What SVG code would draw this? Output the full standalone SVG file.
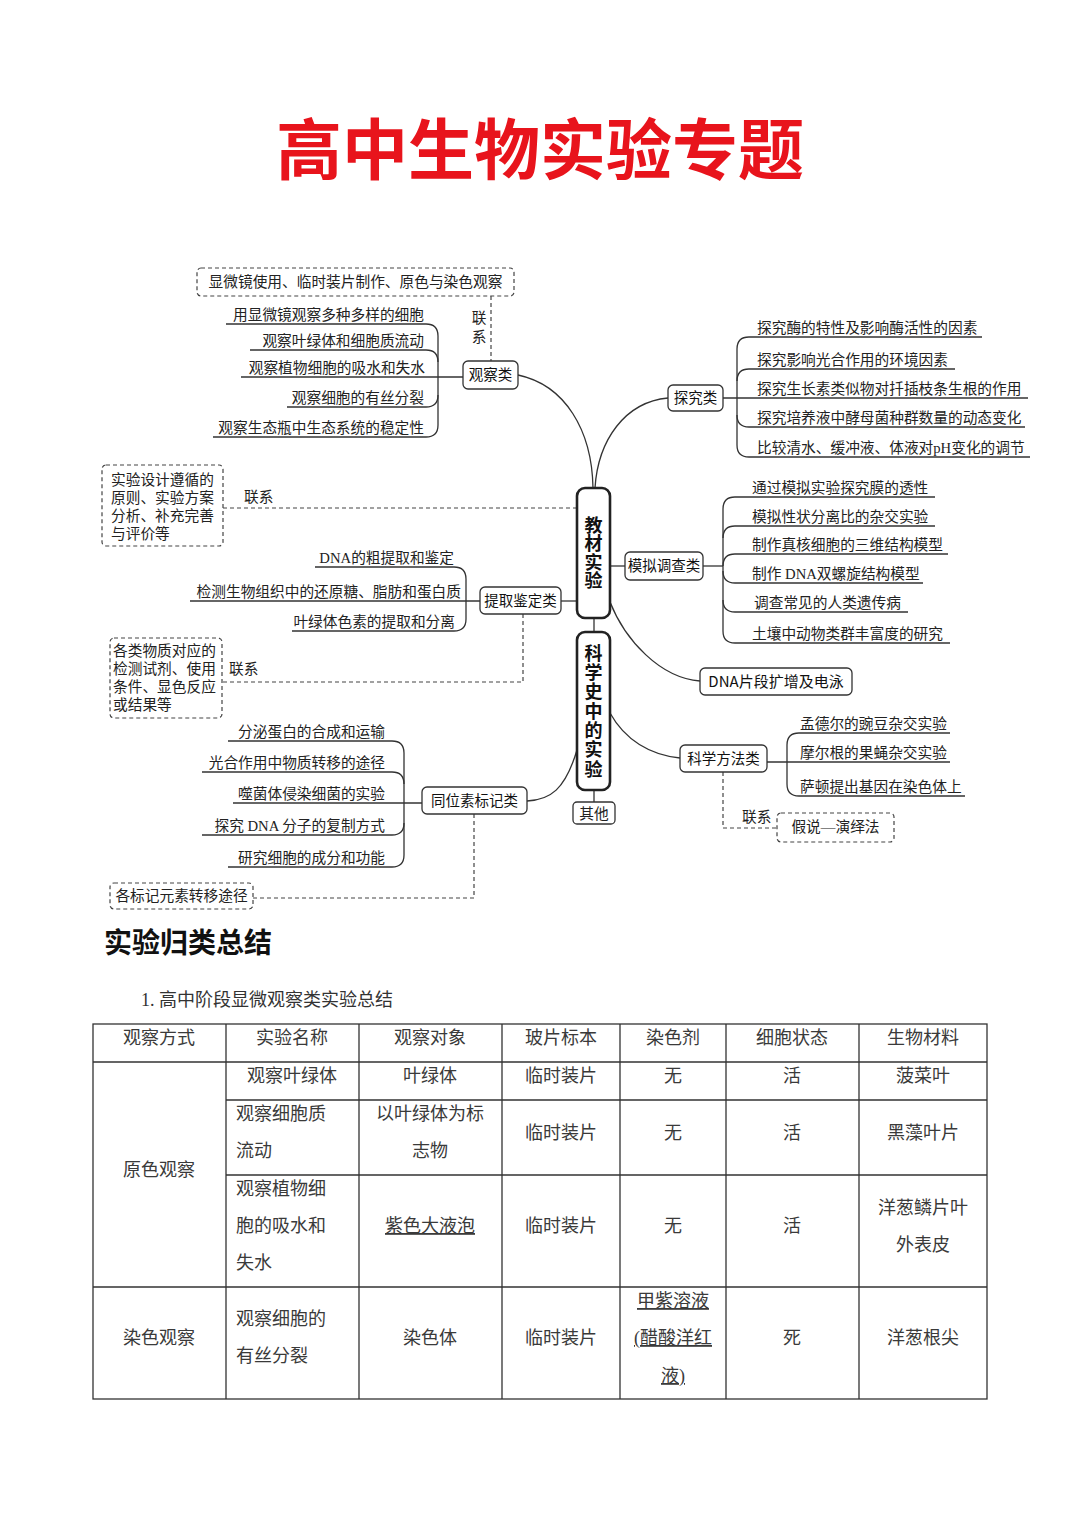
<svg xmlns="http://www.w3.org/2000/svg" width="1080" height="1527" viewBox="0 0 1080 1527">
<style>
.bg{fill:#ffffff}
.title{font-family:"Noto Sans CJK SC",sans-serif;font-weight:700;font-size:66px;fill:#e8141c}
.t{font-family:"Liberation Serif","Noto Sans CJK SC",serif;font-size:14.7px;fill:#222}
.n{font-family:"Noto Sans CJK SC",sans-serif;font-size:14.5px;fill:#111}
.nb{font-family:"Noto Sans CJK SC",sans-serif;font-size:18px;font-weight:700;fill:#111;writing-mode:vertical-rl}
.box{fill:#fff;stroke:#333;stroke-width:1.3}
.main{fill:#fff;stroke:#222;stroke-width:2.6}
.dbox{fill:#fff;stroke:#444;stroke-width:1.2;stroke-dasharray:4 3}
.c{fill:none;stroke:#333;stroke-width:1.3}
.d{fill:none;stroke:#444;stroke-width:1.2;stroke-dasharray:4 3}
.h{font-family:"Noto Sans CJK SC",sans-serif;font-weight:700;font-size:28px;fill:#111}
.s{font-family:"Liberation Serif","Noto Sans CJK SC",serif;font-size:18px;fill:#333}
.tb{font-family:"Liberation Serif","Noto Sans CJK SC",serif;font-size:18px;fill:#3a3a3a}
.grid{fill:none;stroke:#333;stroke-width:1.3}
</style>
<rect class="bg" x="0" y="0" width="1080" height="1527"/>
<text class="title" x="540" y="174" text-anchor="middle">高中生物实验专题</text>

<g id="connectors">
  <path class="c" d="M518,375 C565,385 592,430 593,488"/>
  <path class="c" d="M668,398 C625,402 598,440 595,488"/>
  <path class="c" d="M610,566 H625"/>
  <path class="c" d="M561,601 H577"/>
  <path class="c" d="M610,602 C625,640 660,678 700,681"/>
  <path class="c" d="M610,713 C625,740 650,755 680,758"/>
  <path class="c" d="M577,750 C565,790 550,800 527,801"/>
  <path class="c" d="M594,618 V632"/>
  <path class="c" d="M594,790 V802"/>
  <path class="c" d="M226,324 H426 Q438,324 438,336 V425 Q438,437 426,437 H213"/>
  <path class="c" d="M250,350 H426 Q438,350 438,362"/>
  <path class="c" d="M241,377 H463"/>
  <path class="c" d="M287,407 H426 Q438,407 438,395"/>
  <path class="c" d="M982,337 H749 Q737,337 737,349 V445 Q737,457 749,457 H1030"/>
  <path class="c" d="M737,381 Q737,369 749,369 H955"/>
  <path class="c" d="M723,398 H1028"/>
  <path class="c" d="M737,415 Q737,427 749,427 H1025"/>
  <path class="c" d="M935,497 H735 Q723,497 723,509 V631 Q723,643 735,643 H950"/>
  <path class="c" d="M723,538 Q723,526 735,526 H935"/>
  <path class="c" d="M723,566 Q723,554 735,554 H948"/>
  <path class="c" d="M703,566 H723"/>
  <path class="c" d="M723,571 Q723,583 735,583 H923"/>
  <path class="c" d="M723,600 Q723,612 735,612 H908"/>
  <path class="c" d="M315,567 H454 Q466,567 466,579 V619 Q466,631 454,631 H292"/>
  <path class="c" d="M190,601 H480"/>
  <path class="c" d="M228,741 H392 Q404,741 404,753 V855 Q404,867 392,867 H228"/>
  <path class="c" d="M202,772 H392 Q404,772 404,784"/>
  <path class="c" d="M233,803 H422"/>
  <path class="c" d="M202,835 H392 Q404,835 404,823"/>
  <path class="c" d="M950,733 H799 Q787,733 787,745 V784 Q787,796 799,796 H965"/>
  <path class="c" d="M767,762 H950"/>
  <path class="d" d="M491,296 V361"/>
  <path class="d" d="M223,508 H577"/>
  <path class="d" d="M523,614 V682 H222"/>
  <path class="d" d="M474,814 V898 H253"/>
  <path class="d" d="M723,772 V828 H777"/>
  <text class="t" x="479" y="323" text-anchor="middle">联</text>
  <text class="t" x="479" y="342" text-anchor="middle">系</text>
  <text class="t" x="244" y="502">联系</text>
  <text class="t" x="229" y="674">联系</text>
  <text class="t" x="742" y="822">联系</text>
</g>

<g id="node-main1">
  <rect class="main" x="577" y="488" width="33" height="130" rx="8"/>
  <text class="nb" x="593.5" y="516" style="letter-spacing:0.5px">教材实验</text>
</g>
<g id="node-main2">
  <rect class="main" x="577" y="632" width="33" height="158" rx="8"/>
  <text class="nb" x="593.5" y="644" style="letter-spacing:1.3px">科学史中的实验</text>
</g>
<g id="node-other">
  <rect class="box" x="573" y="802" width="42" height="22" rx="4"/>
  <text class="t" x="594" y="818.5" text-anchor="middle">其他</text>
</g>

<g id="node-guancha">
  <rect class="box" x="463" y="361" width="55" height="28" rx="5"/>
  <text class="n" x="490.5" y="380" text-anchor="middle">观察类</text>
  <text class="t" x="424" y="319.5" text-anchor="end">用显微镜观察多种多样的细胞</text>
  <text class="t" x="424" y="345.5" text-anchor="end">观察叶绿体和细胞质流动</text>
  <text class="t" x="425" y="372.5" text-anchor="end">观察植物细胞的吸水和失水</text>
  <text class="t" x="424" y="402.5" text-anchor="end">观察细胞的有丝分裂</text>
  <text class="t" x="424" y="432.5" text-anchor="end">观察生态瓶中生态系统的稳定性</text>
</g>
<g id="note-guancha">
  <rect class="dbox" x="197" y="268" width="317" height="28" rx="4"/>
  <text class="t" x="355.5" y="287" text-anchor="middle">显微镜使用、临时装片制作、原色与染色观察</text>
</g>

<g id="node-tanjiu">
  <rect class="box" x="668" y="385" width="55" height="26" rx="5"/>
  <text class="n" x="695.5" y="403" text-anchor="middle">探究类</text>
  <text class="t" x="757" y="332.5">探究酶的特性及影响酶活性的因素</text>
  <text class="t" x="757" y="364.5">探究影响光合作用的环境因素</text>
  <text class="t" x="757" y="393.5">探究生长素类似物对扦插枝条生根的作用</text>
  <text class="t" x="757" y="422.5">探究培养液中酵母菌种群数量的动态变化</text>
  <text class="t" x="757" y="452.5">比较清水、缓冲液、体液对pH变化的调节</text>
</g>

<g id="note-design">
  <rect class="dbox" x="102" y="465" width="121" height="81" rx="4"/>
  <text class="t" x="111" y="485">实验设计遵循的</text>
  <text class="t" x="111" y="503">原则、实验方案</text>
  <text class="t" x="111" y="521">分析、补充完善</text>
  <text class="t" x="111" y="539">与评价等</text>
</g>

<g id="node-moni">
  <rect class="box" x="625" y="552" width="78" height="28" rx="5"/>
  <text class="n" x="664" y="571" text-anchor="middle">模拟调查类</text>
  <text class="t" x="752" y="492.5">通过模拟实验探究膜的透性</text>
  <text class="t" x="752" y="521.5">模拟性状分离比的杂交实验</text>
  <text class="t" x="752" y="549.5">制作真核细胞的三维结构模型</text>
  <text class="t" x="752" y="578.5">制作 DNA双螺旋结构模型</text>
  <text class="t" x="754" y="607.5">调查常见的人类遗传病</text>
  <text class="t" x="752" y="638.5">土壤中动物类群丰富度的研究</text>
</g>

<g id="node-tiqu">
  <rect class="box" x="480" y="587" width="81" height="27" rx="5"/>
  <text class="n" x="520.5" y="605.5" text-anchor="middle">提取鉴定类</text>
  <text class="t" x="454" y="562.5" text-anchor="end">DNA的粗提取和鉴定</text>
  <text class="t" x="461" y="596.5" text-anchor="end">检测生物组织中的还原糖、脂肪和蛋白质</text>
  <text class="t" x="455" y="626.5" text-anchor="end">叶绿体色素的提取和分离</text>
</g>
<g id="note-tiqu">
  <rect class="dbox" x="110" y="638" width="112" height="80" rx="4"/>
  <text class="t" x="113" y="656">各类物质对应的</text>
  <text class="t" x="113" y="674">检测试剂、使用</text>
  <text class="t" x="113" y="692">条件、显色反应</text>
  <text class="t" x="113" y="710">或结果等</text>
</g>

<g id="node-dna">
  <rect class="box" x="700" y="668" width="152" height="27" rx="5"/>
  <text class="n" x="776" y="687" text-anchor="middle" style="font-size:15px">DNA片段扩增及电泳</text>
</g>

<g id="node-tongwei">
  <rect class="box" x="422" y="787" width="105" height="27" rx="5"/>
  <text class="n" x="474.5" y="806" text-anchor="middle">同位素标记类</text>
  <text class="t" x="385" y="736.5" text-anchor="end">分泌蛋白的合成和运输</text>
  <text class="t" x="385" y="767.5" text-anchor="end">光合作用中物质转移的途径</text>
  <text class="t" x="385" y="798.5" text-anchor="end">噬菌体侵染细菌的实验</text>
  <text class="t" x="385" y="830.5" text-anchor="end">探究 DNA 分子的复制方式</text>
  <text class="t" x="385" y="862.5" text-anchor="end">研究细胞的成分和功能</text>
</g>
<g id="note-tongwei">
  <rect class="dbox" x="110" y="883" width="143" height="26" rx="4"/>
  <text class="t" x="181.5" y="901" text-anchor="middle">各标记元素转移途径</text>
</g>

<g id="node-kexue">
  <rect class="box" x="680" y="745" width="87" height="27" rx="5"/>
  <text class="n" x="723.5" y="764" text-anchor="middle">科学方法类</text>
  <text class="t" x="800" y="728.5">孟德尔的豌豆杂交实验</text>
  <text class="t" x="800" y="757.5">摩尔根的果蝇杂交实验</text>
  <text class="t" x="800" y="791.5">萨顿提出基因在染色体上</text>
</g>
<g id="note-kexue">
  <rect class="dbox" x="777" y="813" width="117" height="29" rx="4"/>
  <text class="t" x="835.5" y="832" text-anchor="middle">假说—演绎法</text>
</g>

<text class="h" x="104" y="953">实验归类总结</text>
<text class="s" x="141" y="1006">1.  高中阶段显微观察类实验总结</text>

<g id="table">
  <rect class="grid" x="93" y="1024" width="894" height="375"/>
  <path class="grid" d="M93,1062 H987 M226,1100 H987 M226,1175 H987 M93,1287 H987"/>
  <path class="grid" d="M226,1024 V1399 M359,1024 V1399 M502,1024 V1399 M620,1024 V1399 M726,1024 V1399 M859,1024 V1399"/>
  <g class="tb" text-anchor="middle">
    <text x="159" y="1044">观察方式</text>
    <text x="292" y="1044">实验名称</text>
    <text x="430" y="1044">观察对象</text>
    <text x="561" y="1044">玻片标本</text>
    <text x="673" y="1044">染色剂</text>
    <text x="792" y="1044">细胞状态</text>
    <text x="923" y="1044">生物材料</text>

    <text x="292" y="1082">观察叶绿体</text>
    <text x="430" y="1082">叶绿体</text>
    <text x="561" y="1082">临时装片</text>
    <text x="673" y="1082">无</text>
    <text x="792" y="1082">活</text>
    <text x="923" y="1082">菠菜叶</text>

    <text x="430" y="1120">以叶绿体为标</text>
    <text x="430" y="1157">志物</text>
    <text x="561" y="1139">临时装片</text>
    <text x="673" y="1139">无</text>
    <text x="792" y="1139">活</text>
    <text x="923" y="1139">黑藻叶片</text>

    <text x="159" y="1176">原色观察</text>
    <text x="430" y="1232" text-decoration="underline">紫色大液泡</text>
    <text x="561" y="1232">临时装片</text>
    <text x="673" y="1232">无</text>
    <text x="792" y="1232">活</text>
    <text x="923" y="1214">洋葱鳞片叶</text>
    <text x="923" y="1251">外表皮</text>

    <text x="159" y="1344">染色观察</text>
    <text x="430" y="1344">染色体</text>
    <text x="561" y="1344">临时装片</text>
    <text x="673" y="1307" text-decoration="underline">甲紫溶液</text>
    <text x="673" y="1344" text-decoration="underline">(醋酸洋红</text>
    <text x="673" y="1382" text-decoration="underline">液)</text>
    <text x="792" y="1344">死</text>
    <text x="923" y="1344">洋葱根尖</text>
  </g>
  <g class="tb">
    <text x="236" y="1120">观察细胞质</text>
    <text x="236" y="1157">流动</text>
    <text x="236" y="1195">观察植物细</text>
    <text x="236" y="1232">胞的吸水和</text>
    <text x="236" y="1269">失水</text>
    <text x="236" y="1325">观察细胞的</text>
    <text x="236" y="1362">有丝分裂</text>
  </g>
</g>
</svg>
